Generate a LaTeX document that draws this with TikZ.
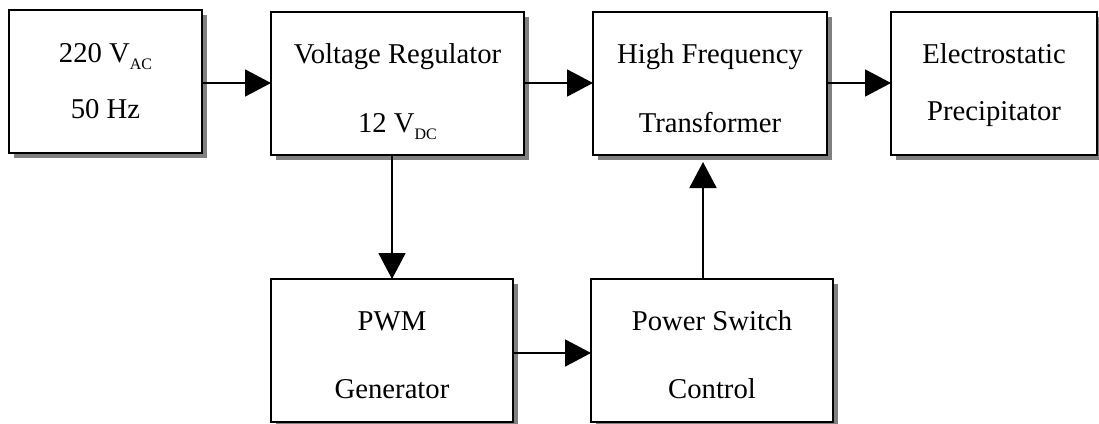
\documentclass[tikz,border=0pt]{standalone}
\usepackage{fontspec}
\setmainfont{Liberation Serif}
\usetikzlibrary{arrows.meta,shadows}
\newcommand{\lowsub}[1]{\raisebox{-7pt}{\fontsize{16}{16}\selectfont #1}}
\begin{document}
\begin{tikzpicture}[x=1pt,y=-1pt,
  blk/.style={draw,line width=1.8pt,fill=white,rectangle,inner sep=0pt,outer sep=0pt,anchor=north west,
    drop shadow={shadow xshift=5pt,shadow yshift=-5pt,fill=black!50,opacity=1}},
  txt/.style={anchor=base,inner sep=0pt,font=\fontsize{28.7}{34}\selectfont},
  arr/.style={line width=1.8pt,-{Triangle[length=26pt,width=27pt]}}]
\useasboundingbox (0,0) rectangle (1099,423);
% boxes
\node[blk,minimum width=193pt,minimum height=143pt] (b1) at (9,10) {};
\node[blk,minimum width=253pt,minimum height=143pt] (b2) at (271,12) {};
\node[blk,minimum width=234pt,minimum height=143pt] (b3) at (593,12) {};
\node[blk,minimum width=206pt,minimum height=143pt] (b4) at (891,12) {};
\node[blk,minimum width=242pt,minimum height=143pt] (b5) at (271,279) {};
\node[blk,minimum width=242pt,minimum height=143pt] (b6) at (591,279) {};
% texts
\node[txt] (t1a) at (105.5,62) {220 V\lowsub{AC}};
\node[txt] (t1b) at (105.5,118) {50 Hz};
\node[txt] (t2a) at (397.5,63) {Voltage Regulator};
\node[txt] (t2b) at (397.5,132) {12 V\lowsub{DC}};
\node[txt] (t3a) at (710,63) {High Frequency};
\node[txt] (t3b) at (710,132) {Transformer};
\node[txt] (t4a) at (994,63) {Electrostatic};
\node[txt] (t4b) at (994,120) {Precipitator};
\node[txt] (t5a) at (392,330) {PWM};
\node[txt] (t5b) at (392,398) {Generator};
\node[txt] (t6a) at (712,330) {Power Switch};
\node[txt] (t6b) at (712,398) {Control};
% helper coordinates
\coordinate (r1) at (0,83);
\coordinate (r2) at (0,353);
\coordinate (vx) at (703,0);
% connectors
\draw[arr] (b1.east |- r1) -- (b2.west |- r1);
\draw[arr] (b2.east |- r1) -- (b3.west |- r1);
\draw[arr] (b3.east |- r1) -- (b4.west |- r1);
\draw[arr] (b2.south -| b5.north) -- (b5.north);
\draw[arr] (b5.east |- r2) -- (b6.west |- r2);
\draw[arr,shorten >=7pt] (b6.north -| vx) -- (b3.south -| vx);
\end{tikzpicture}
\end{document}
